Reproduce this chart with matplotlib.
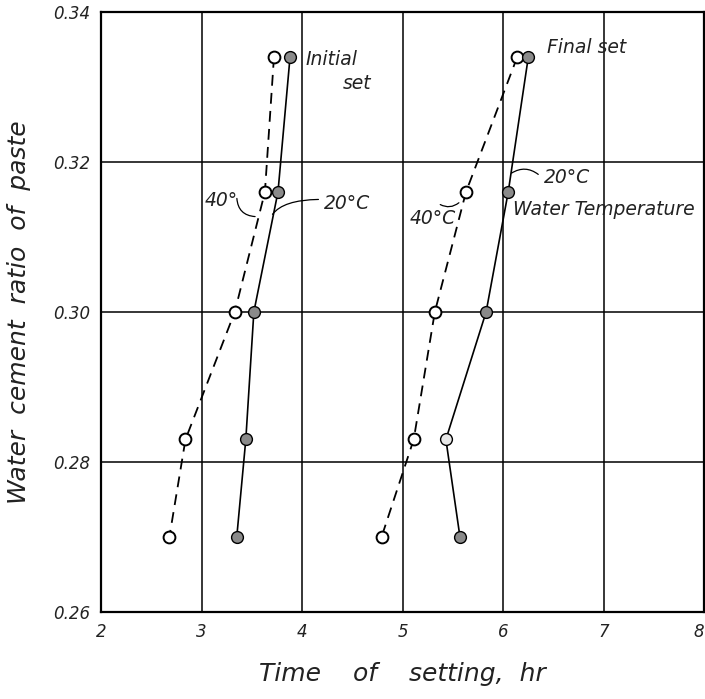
import matplotlib
matplotlib.use("Agg")
import matplotlib.pyplot as plt

# water cement ratio levels
wc = [0.334, 0.316, 0.300, 0.283, 0.270]

# time of setting (hr)
initial_40 = [3.72, 3.63, 3.33, 2.84, 2.68]
initial_20 = [3.88, 3.76, 3.52, 3.44, 3.35]
final_40 = [6.14, 5.63, 5.32, 5.11, 4.79]
final_20 = [6.25, 6.05, 5.83, 5.43, 5.57]
# the 0.283 point of final 20C is drawn light in the original
final_20_face = ["#8a8a8a", "#8a8a8a", "#8a8a8a", "#e8e8e8", "#8a8a8a"]

x_ticks = [2, 3, 4, 5, 6, 7, 8]
y_ticks = [0.26, 0.28, 0.30, 0.32, 0.34]
y_tick_labels = ["0.26", "0.28", "0.30", "0.32", "0.34"]

plt.rcParams["font.family"] = ["DejaVu Sans"]
plt.rcParams["font.style"] = "italic"

fig = plt.figure(figsize=(7.05, 6.99), dpi=100)
ax = fig.add_axes([0.1433, 0.1245, 0.8557, 0.8585])

ms = 8.5
for xs in (initial_40, final_40):
    ax.plot(xs, wc, color="black", lw=1.3, linestyle=(0, (6, 4)), zorder=2)
    ax.plot(xs, wc, "o", ms=ms, mfc="white", mec="black", mew=1.4, zorder=3)

ax.plot(initial_20, wc, color="black", lw=1.2, zorder=2)
ax.plot(initial_20, wc, "o", ms=ms, mfc="#8a8a8a", mec="black", mew=1.0, zorder=3)

ax.plot(final_20, wc, color="black", lw=1.2, zorder=2)
for x, y, fc in zip(final_20, wc, final_20_face):
    ax.plot([x], [y], "o", ms=ms, mfc=fc, mec="black", mew=1.0, zorder=3)

ax.set_xlim(2, 8)
ax.set_ylim(0.26, 0.34)
ax.set_xticks(x_ticks)
ax.set_yticks(y_ticks)
ax.set_yticklabels(y_tick_labels)
ax.tick_params(length=0, labelsize=12, pad=8, colors="#222222")
# last x tick sits on the figure edge
ax.get_xticklabels()[-1].set_ha("right")
ax.grid(True, color="black", lw=1.1)
ax.set_axisbelow(True)
for s in ax.spines.values():
    s.set_linewidth(1.6)

ax.set_xlabel("Time    of    setting,  hr", fontsize=18, color="#222222")
ax.xaxis.set_label_coords(0.5, -0.083)
ax.set_ylabel("Water  cement  ratio  of  paste", fontsize=18, color="#222222")
ax.yaxis.set_label_coords(-0.116, 0.5)

txt = dict(fontsize=13.5, color="#222222")
ax.text(4.03, 0.3336, "Initial", va="center", ha="left", **txt)
ax.text(4.40, 0.3305, "set", va="center", ha="left", **txt)
ax.text(6.44, 0.3352, "Final set", va="center", ha="left", **txt)
ax.text(3.03, 0.3149, "40°", va="center", ha="left", **txt)
ax.text(4.22, 0.3145, "20°C", va="center", ha="left", **txt)
ax.text(6.40, 0.3179, "20°C", va="center", ha="left", **txt)
ax.text(6.10, 0.3136, "Water Temperature", va="center", ha="left", **txt)
ax.text(5.07, 0.3125, "40°C", va="center", ha="left", **txt)

# leader squiggles
lead = dict(arrowstyle="-", color="black", lw=0.9)
ax.annotate("", xy=(3.56, 0.3127), xytext=(3.35, 0.3155),
            arrowprops=dict(connectionstyle="arc3,rad=0.5", **lead))
ax.annotate("", xy=(3.69, 0.3127), xytext=(4.19, 0.3150),
            arrowprops=dict(connectionstyle="angle3,angleA=0,angleB=60", **lead))
ax.annotate("", xy=(6.06, 0.3183), xytext=(6.37, 0.3181),
            arrowprops=dict(connectionstyle="arc3,rad=0.4", **lead))
ax.annotate("", xy=(5.58, 0.3148), xytext=(5.35, 0.3145),
            arrowprops=dict(connectionstyle="arc3,rad=0.4", **lead))

fig.savefig("out.png", dpi=100)
